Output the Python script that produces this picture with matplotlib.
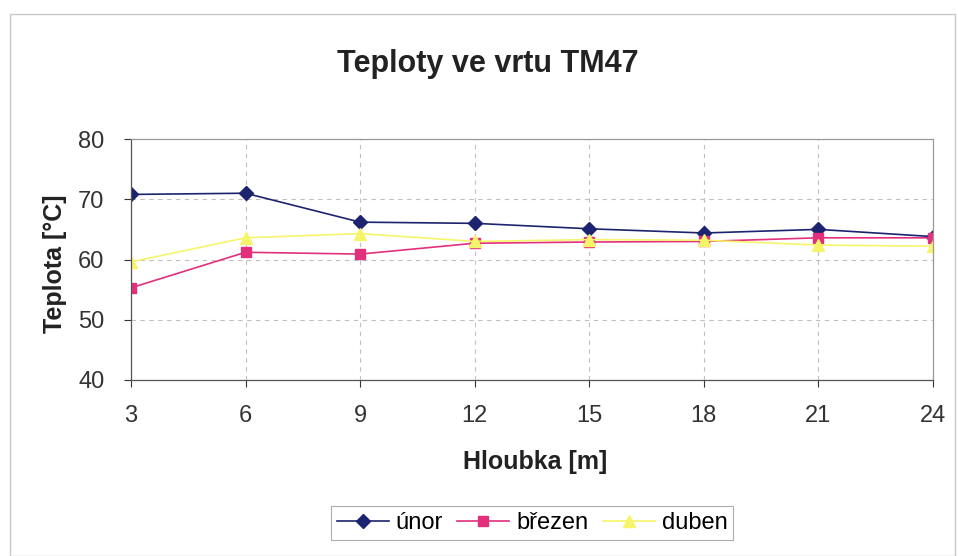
import matplotlib
matplotlib.use('Agg')
import matplotlib.pyplot as plt
from matplotlib.patches import Rectangle

plt.rcParams['font.family'] = ['Liberation Sans', 'DejaVu Sans']

# Hloubka [m]
depth = [3, 6, 9, 12, 15, 18, 21, 24]
# Teplota [°C] per month
unor = [70.8, 71.0, 66.2, 66.0, 65.1, 64.4, 65.0, 63.8]
brezen = [55.3, 61.2, 60.9, 62.7, 62.9, 63.0, 63.6, 63.6]
duben = [59.6, 63.6, 64.3, 63.0, 63.3, 63.2, 62.4, 62.2]

W, H = 958, 556
fig = plt.figure(figsize=(W / 100, H / 100), dpi=100)
ax = fig.add_axes([131 / W, 1 - 380 / H, (933 - 131) / W, (380 - 139) / H])

# outer chart frame
fig.patches.append(Rectangle((10 / W, 0.0), 945 / W, 1 - 14 / H,
                             transform=fig.transFigure, fill=False,
                             edgecolor='#c8c8c8', linewidth=1.0))

ax.plot(depth, unor, color='#1c2470', marker='D', markersize=7,
        linewidth=1.2, label='únor')
ax.plot(depth, brezen, color='#e2307c', marker='s', markersize=7,
        linewidth=1.2, label='březen')
ax.plot(depth, duben, color='#f6f56a', marker='^', markersize=8,
        linewidth=1.2, label='duben')

ax.set_xlim(3, 24)
ax.set_ylim(40, 80)
ax.set_xticks(depth)
ax.set_yticks([40, 50, 60, 70, 80])
ax.grid(True, linestyle=(0, (4, 4)), color='#c0c0c0', linewidth=0.8)
ax.tick_params(labelsize=17, colors='#333333', length=5, width=0.8)
ax.tick_params(axis='x', pad=13)
ax.tick_params(axis='y', pad=14)
for s in ax.spines.values():
    s.set_color('#9a9a9a')
    s.set_linewidth(0.9)
ax.spines['left'].set_color('#555555')
ax.spines['bottom'].set_color('#555555')

fig.text(488 / W, 1 - 64 / H, 'Teploty ve vrtu TM47', fontsize=22,
         fontweight='bold', color='#222222', ha='center', va='center')

ax.set_xlabel('Hloubka [m]', fontsize=18, fontweight='bold', color='#222222')
ax.xaxis.set_label_coords(0.504, (380 - 462) / 241)
ax.xaxis.label.set_va('center')
ax.set_ylabel('Teplota [°C]', fontsize=18, fontweight='bold', color='#222222')
ax.yaxis.set_label_coords((55 - 131) / 802, 0.483)
ax.yaxis.label.set_va('center')

leg = fig.legend(*ax.get_legend_handles_labels(), loc='center',
                 bbox_to_anchor=(532 / W, 1 - 523 / H), ncol=3,
                 fontsize=17, frameon=True, fancybox=False, handlelength=2.2,
                 columnspacing=0.6, handletextpad=0.3, borderpad=0.25)
leg.get_frame().set_edgecolor('#999999')
leg.get_frame().set_linewidth(0.8)

fig.savefig('out.png', dpi=100)
